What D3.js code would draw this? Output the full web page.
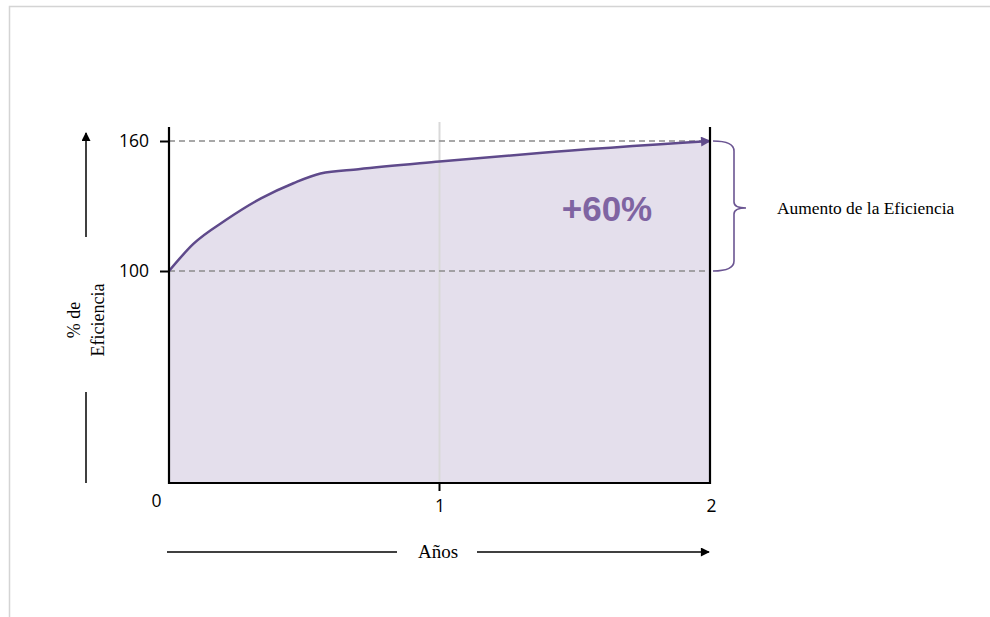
<!DOCTYPE html>
<html>
<head>
<meta charset="utf-8">
<script src="https://cdn.jsdelivr.net/npm/d3@7"></script>
<style>
  html, body { margin: 0; padding: 0; background: #fff; }
  svg { display: block; }
</style>
</head>
<body>
<svg id="chart" width="990" height="617"></svg>
<script>
// Efficiency over time (years) in percent
const years      = [0, 0.09, 0.21, 0.34, 0.46, 0.56, 0.70, 1.00, 1.37, 2.00];
const efficiency = [100, 112.5, 123.5, 133.5, 140.5, 145, 147, 150.5, 154.5, 160];
const xTicks = [0, 1, 2];
const yTicks = [100, 160];
const baseline = 100;
const target = 160;

const svg = d3.select("#chart");
const serif = "'Liberation Serif', 'Times New Roman', serif";
const sans = "'Open Sans', 'Liberation Sans', sans-serif";

// Frame around the slide
svg.append("path")
  .attr("d", "M9.5,617 L9.5,6.5 L990,6.5")
  .attr("fill", "none").attr("stroke", "#d4d4d4").attr("stroke-width", 1.5);

const x = d3.scaleLinear().domain([0, 2]).range([169, 710]);
const y = d3.scaleLinear().domain([100, 160]).range([271, 141]);
const yBottom = 483, yTop = 127;

const data = years.map((t, i) => ({ t, v: efficiency[i] }));

// Shaded region under the curve
const area = d3.area()
  .x(d => x(d.t)).y0(yBottom).y1(d => y(d.v))
  .curve(d3.curveMonotoneX);
svg.append("path").datum(data)
  .attr("d", area).attr("fill", "#e4dfec");

// Vertical grid line at year 1
svg.append("line")
  .attr("x1", x(1)).attr("x2", x(1)).attr("y1", 122).attr("y2", yBottom)
  .attr("stroke", "#d9d9d9").attr("stroke-width", 2);

// Reference dashed lines at 100% and 160%
yTicks.forEach(v => {
  svg.append("line")
    .attr("x1", x(0)).attr("x2", x(2) - (v === target ? 5 : 0))
    .attr("y1", y(v)).attr("y2", y(v))
    .attr("stroke", "#8c8c8c").attr("stroke-width", 1.5)
    .attr("stroke-dasharray", "6,4");
});

// Arrow markers
const defs = svg.append("defs");
defs.append("marker").attr("id", "arrPurple")
  .attr("viewBox", "0 0 10 10").attr("refX", 9).attr("refY", 5)
  .attr("markerWidth", 12).attr("markerHeight", 10).attr("orient", "auto")
  .attr("markerUnits", "userSpaceOnUse")
  .append("path").attr("d", "M0,0 L10,5 L0,10 Z").attr("fill", "#5f4a8b");
defs.append("marker").attr("id", "arrBlack")
  .attr("viewBox", "0 0 10 10").attr("refX", 9).attr("refY", 5)
  .attr("markerWidth", 10).attr("markerHeight", 9).attr("orient", "auto")
  .attr("markerUnits", "userSpaceOnUse")
  .append("path").attr("d", "M0,0 L10,5 L0,10 Z").attr("fill", "#000");

// Efficiency curve
const line = d3.line().x(d => x(d.t)).y(d => y(d.v)).curve(d3.curveMonotoneX);
svg.append("path").datum(data)
  .attr("d", line).attr("fill", "none")
  .attr("stroke", "#5f4a8b").attr("stroke-width", 2.5)
  .attr("marker-end", "url(#arrPurple)");

// Axes frame: left, bottom, right
svg.append("line").attr("x1", x(0)).attr("x2", x(0)).attr("y1", yTop).attr("y2", yBottom + 1)
  .attr("stroke", "#000").attr("stroke-width", 2.2);
svg.append("line").attr("x1", x(2)).attr("x2", x(2)).attr("y1", yTop).attr("y2", yBottom + 1)
  .attr("stroke", "#000").attr("stroke-width", 2.2);
svg.append("line").attr("x1", x(0) - 1).attr("x2", x(2) + 1).attr("y1", yBottom).attr("y2", yBottom)
  .attr("stroke", "#000").attr("stroke-width", 2.2);

// Y ticks and labels
const yAxis = d3.axisLeft(y).tickValues(yTicks).tickSize(9).tickPadding(11);
const gy = svg.append("g").attr("transform", `translate(${x(0)},0)`).call(yAxis);
gy.select(".domain").remove();
gy.selectAll(".tick line").attr("stroke", "#000").attr("stroke-width", 2);
gy.selectAll(".tick text").attr("font-family", sans).attr("font-size", 17.5).attr("fill", "#000");

// X ticks and labels
const xAxis = d3.axisBottom(x).tickValues(xTicks).tickSize(0).tickPadding(0)
  .tickFormat(d3.format("d"));
const gx = svg.append("g").attr("transform", `translate(0,${yBottom})`).call(xAxis);
gx.select(".domain").remove();
gx.selectAll(".tick line").remove();
gx.selectAll(".tick text")
  .attr("font-family", sans).attr("font-size", 17.5).attr("fill", "#000")
  .attr("dy", null).attr("y", d => d === 0 ? 24 : 29)
  .attr("x", d => d === 0 ? -13 : (d === 2 ? 1 : 0));
svg.append("line").attr("x1", x(1)).attr("x2", x(1)).attr("y1", yBottom).attr("y2", yBottom + 8)
  .attr("stroke", "#000").attr("stroke-width", 2);

// Gain label
const gain = Math.round((target - baseline) / baseline * 100);
svg.append("text")
  .attr("x", 607).attr("y", 221).attr("text-anchor", "middle")
  .attr("font-family", "'Liberation Sans', Arial, sans-serif").attr("font-weight", "bold")
  .attr("font-size", 35).attr("fill", "#7f64a2")
  .text(`+${gain}%`);

// Brace spanning baseline to target
const bx = 713, by0 = y(target), by1 = y(baseline), bmid = 208;
const braceD = [
  `M${bx},${by0}`,
  `Q${bx + 21},${by0} ${bx + 21},${by0 + 10}`,
  `L${bx + 21},${bmid - 6}`,
  `Q${bx + 21},${bmid} ${bx + 33},${bmid}`,
  `Q${bx + 21},${bmid} ${bx + 21},${bmid + 6}`,
  `L${bx + 21},${by1 - 10}`,
  `Q${bx + 21},${by1} ${bx},${by1}`
].join(" ");
svg.append("path").attr("d", braceD).attr("fill", "none")
  .attr("stroke", "#6b5592").attr("stroke-width", 1.6);

svg.append("text")
  .attr("x", 777).attr("y", 214)
  .attr("font-family", serif).attr("font-size", 17.4).attr("fill", "#000")
  .text("Aumento de la Eficiencia");

// Y axis title with arrow
svg.append("line").attr("x1", 86).attr("x2", 86).attr("y1", 237).attr("y2", 133)
  .attr("stroke", "#000").attr("stroke-width", 1.5).attr("marker-end", "url(#arrBlack)");
svg.append("line").attr("x1", 86).attr("x2", 86).attr("y1", 392).attr("y2", 483)
  .attr("stroke", "#000").attr("stroke-width", 1.5);
const yt = svg.append("text")
  .attr("transform", "translate(85,320) rotate(-90)")
  .attr("text-anchor", "middle")
  .attr("font-family", serif).attr("font-size", 18).attr("fill", "#000");
yt.append("tspan").attr("x", 0).attr("dy", -5).text("% de");
yt.append("tspan").attr("x", 0).attr("dy", 24).text("Eficiencia");

// X axis title with arrow
svg.append("line").attr("x1", 167).attr("x2", 397).attr("y1", 552).attr("y2", 552)
  .attr("stroke", "#000").attr("stroke-width", 1.5);
svg.append("line").attr("x1", 477).attr("x2", 709).attr("y1", 552).attr("y2", 552)
  .attr("stroke", "#000").attr("stroke-width", 1.5).attr("marker-end", "url(#arrBlack)");
svg.append("text")
  .attr("x", 438).attr("y", 558).attr("text-anchor", "middle")
  .attr("font-family", serif).attr("font-size", 19).attr("fill", "#000")
  .text("Años");
</script>
</body>
</html>
